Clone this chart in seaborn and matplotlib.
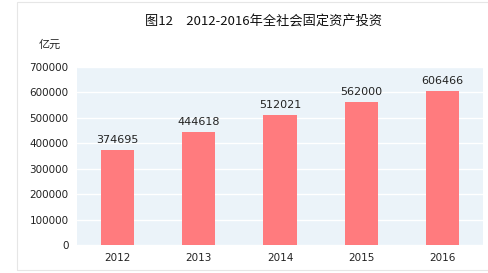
import matplotlib
matplotlib.use("Agg")
import matplotlib.pyplot as plt
import seaborn as sns
import pandas as pd
from matplotlib.patches import Rectangle

years = ["2012", "2013", "2014", "2015", "2016"]
values = [374695, 444618, 512021, 562000, 606466]
yticks = [0, 100000, 200000, 300000, 400000, 500000, 600000, 700000]
title = "图12　2012-2016年全社会固定资产投资"
unit = "亿元"

sns.set_theme(style="white")
plt.rcParams['font.family'] = ['Noto Sans CJK SC', 'DejaVu Sans']

df = pd.DataFrame({"year": years, "value": values})

fig = plt.figure(figsize=(4.89, 2.73), dpi=100)
fig.patch.set_facecolor("white")
ax = fig.add_axes([77/489, 28/273, 406/489, 178/273])
ax.set_facecolor("#EBF3F9")

sns.barplot(data=df, x="year", y="value", color="#FF7B7E", width=0.41,
            saturation=1, linewidth=0, ax=ax, zorder=3)
ax.set_ylim(0, 700000)
ax.set_xlim(-0.5, 4.5)
ax.set_yticks(yticks)
ax.set_yticklabels([str(t) for t in yticks], fontsize=7.5, color="#222222",
                   family="DejaVu Sans")
ax.set_xticklabels(years, fontsize=7.5, color="#222222", family="DejaVu Sans")
ax.yaxis.grid(True, color="white", linewidth=1.0, zorder=1)
ax.set_axisbelow(True)
for s in ax.spines.values():
    s.set_visible(False)
ax.tick_params(length=0, pad=6)
ax.set_xlabel("")
ax.set_ylabel("")

for p, v in zip(ax.patches, values):
    ax.text(p.get_x() + p.get_width() / 2, v + 19000, str(v), ha="center",
            va="bottom", fontsize=8, color="#222222", family="DejaVu Sans")

fig.text(264/489, 1 - 22/273, title, ha="center", va="center", fontsize=9.5,
         color="#111111", fontweight="normal")
fig.text(50/489, 1 - 45/273, unit, ha="center", va="center", fontsize=8,
         color="#222222")

fig.patches.append(Rectangle((17/489, 3/273), 1.0, 268/273,
                             transform=fig.transFigure, fill=False,
                             edgecolor="#E6E6E6", linewidth=0.8))

fig.savefig("out.png", dpi=100)
